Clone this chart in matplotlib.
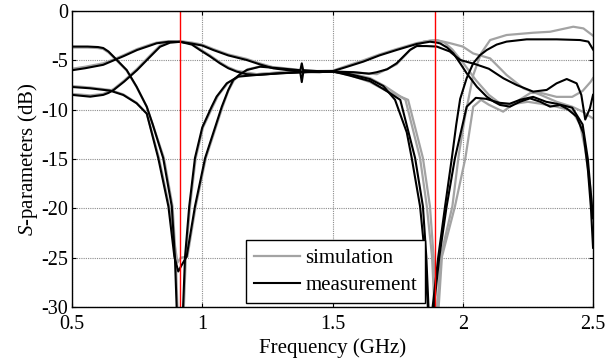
import numpy as np
import matplotlib
matplotlib.use('Agg')
import matplotlib.pyplot as plt

plt.rcParams['font.family'] = 'Liberation Serif'
plt.rcParams['mathtext.fontset'] = 'custom'
plt.rcParams['mathtext.rm'] = 'Liberation Serif'
plt.rcParams['mathtext.it'] = 'Liberation Serif:italic'
plt.rcParams['axes.unicode_minus'] = False

# centre frequencies of the two bands (GHz)
f_bands = [0.915, 1.895]

# measured curves (GHz, dB)
f_t1_meas = [0.5, 0.55, 0.62, 0.66, 0.7, 0.75, 0.8, 0.825, 0.87, 0.915, 0.96, 1.0, 1.042, 1.1, 1.17, 1.22, 1.273, 1.33,
             1.375, 1.45, 1.5, 1.55, 1.618, 1.68, 1.746, 1.823, 1.874, 1.9, 1.913, 1.94, 1.964, 1.99, 2.015, 2.054, 2.092,
             2.12, 2.143, 2.181, 2.22, 2.258, 2.297, 2.335, 2.373, 2.4, 2.437, 2.463, 2.48, 2.492, 2.5]
s_t1_meas = [-6.0, -5.8, -5.45, -5.0, -4.55, -3.95, -3.5, -3.27, -3.12, -3.12, -3.3, -3.5, -3.95, -4.5, -4.96, -5.4, -5.81, -6.0,
             -6.14, -6.2, -6.1, -5.7, -5.13, -4.5, -3.95, -3.34, -3.11, -3.2, -3.28, -3.7, -4.29, -5.3, -6.31, -7.67, -8.68,
             -9.2, -9.52, -9.69, -9.19, -8.85, -9.19, -9.69, -9.52, -9.9, -10.7, -12.4, -16.0, -20.0, -24.0]

f_t2_meas = [0.5, 0.57, 0.62, 0.64, 0.66, 0.7, 0.75, 0.8, 0.838, 0.876, 0.915, 0.96, 0.991, 1.03, 1.068, 1.1, 1.132, 1.17,
             1.209, 1.298, 1.4, 1.5, 1.58, 1.64, 1.67, 1.71, 1.746, 1.797, 1.823, 1.86, 1.9, 1.95, 1.99, 2.05, 2.1, 2.156,
             2.207, 2.27, 2.322, 2.36, 2.399, 2.437, 2.455, 2.47, 2.488, 2.5]
s_t2_meas = [-8.5, -8.68, -8.5, -8.3, -8.0, -7.16, -5.98, -4.63, -3.62, -3.21, -3.12, -3.4, -3.95, -4.6, -5.3, -5.8, -6.14, -6.4,
             -6.48, -6.31, -6.2, -6.15, -6.2, -6.35, -6.2, -5.9, -5.3, -3.95, -3.55, -3.55, -3.6, -4.1, -4.96, -5.4, -5.85,
             -6.82, -7.5, -8.17, -8.0, -7.33, -6.89, -7.33, -8.5, -11.0, -9.86, -8.5]

f_r1_meas = [0.5, 0.56, 0.6, 0.62, 0.64, 0.66, 0.71, 0.748, 0.787, 0.81, 0.85, 0.883, 0.895, 0.903, 0.925, 0.934, 0.95, 0.972,
             1.0, 1.036, 1.055, 1.094, 1.138, 1.209, 1.298, 1.375, 1.382, 1.389, 1.45, 1.5, 1.567, 1.644, 1.695, 1.74,
             1.785, 1.804, 1.836, 1.855, 1.868, 1.88, 1.906, 1.932, 1.958, 1.975, 1.99, 2.015, 2.04, 2.065, 2.092, 2.13,
             2.168, 2.245, 2.36, 2.45, 2.482, 2.5]
s_r1_meas = [-3.6, -3.6, -3.65, -3.75, -4.1, -4.63, -5.98, -7.67, -9.7, -11.5, -14.9, -19.8, -24.9, -31.0, -31.0, -24.9, -19.8,
             -14.9, -11.8, -9.7, -8.68, -7.33, -6.65, -6.48, -6.31, -6.2, -5.3, -6.2, -6.1, -6.15, -6.4, -6.9, -7.6, -9.0,
             -12.3, -14.9, -19.8, -24.9, -31.0, -31.0, -24.9, -19.8, -14.9, -11.5, -8.9, -6.8, -5.3, -4.5, -3.95, -3.4,
             -3.1, -2.87, -2.87, -2.94, -3.1, -3.9]

f_r2_meas = [0.5, 0.569, 0.646, 0.697, 0.748, 0.787, 0.831, 0.87, 0.893, 0.908, 0.92, 0.94, 0.972, 1.011, 1.075, 1.1, 1.119,
             1.145, 1.171, 1.222, 1.298, 1.375, 1.382, 1.389, 1.45, 1.5, 1.567, 1.644, 1.695, 1.76, 1.817, 1.847, 1.86,
             1.87, 1.885, 1.91, 1.938, 1.97, 2.015, 2.05, 2.09, 2.14, 2.18, 2.22, 2.27, 2.32, 2.36, 2.42, 2.46, 2.48, 2.5]
s_r2_meas = [-7.7, -7.83, -8.07, -8.51, -9.35, -10.4, -14.9, -19.8, -24.9, -26.4, -25.8, -24.9, -19.8, -14.9, -9.7, -8.0, -6.99,
             -6.4, -5.98, -5.64, -5.81, -6.0, -7.2, -6.0, -6.1, -6.1, -6.55, -7.1, -7.9, -9.0, -14.9, -19.8, -24.9, -31.0,
             -31.0, -24.9, -19.8, -14.9, -9.7, -8.8, -8.9, -9.3, -9.4, -9.0, -8.7, -9.2, -9.4, -9.8, -11.5, -15.0, -21.0]

# simulated curves (GHz, dB)
f_t1_sim = [0.5, 0.55, 0.62, 0.66, 0.7, 0.75, 0.8, 0.825, 0.87, 0.915, 0.96, 1.0, 1.042, 1.1, 1.17, 1.22, 1.273, 1.33,
            1.4, 1.5, 1.55, 1.618, 1.68, 1.746, 1.823, 1.874, 1.9, 1.93, 1.96, 2.0, 2.05, 2.1, 2.15, 2.2, 2.25, 2.3,
            2.36, 2.42, 2.45, 2.47, 2.49, 2.5]
s_t1_sim = [-5.85, -5.65, -5.3, -4.9, -4.45, -3.85, -3.4, -3.2, -3.05, -3.05, -3.2, -3.4, -3.85, -4.4, -4.85, -5.3, -5.7, -5.95,
            -6.1, -6.05, -5.6, -5.0, -4.4, -3.85, -3.25, -3.0, -2.95, -3.2, -3.9, -5.2, -7.0, -8.5, -9.5, -9.4, -9.2, -9.4,
            -9.7, -10.1, -11.5, -14.0, -18.0, -21.0]

f_t2_sim = [0.5, 0.57, 0.62, 0.66, 0.7, 0.75, 0.8, 0.838, 0.876, 0.915, 0.96, 0.991, 1.03, 1.068, 1.1, 1.132, 1.209, 1.298,
            1.4, 1.5, 1.58, 1.67, 1.746, 1.8, 1.85, 1.9, 1.95, 2.0, 2.04, 2.105, 2.168, 2.233, 2.3, 2.36, 2.42, 2.46, 2.5]
s_t2_sim = [-8.4, -8.55, -8.4, -7.9, -7.05, -5.85, -4.5, -3.5, -3.12, -3.05, -3.3, -3.85, -4.5, -5.2, -5.7, -6.05, -6.4, -6.25,
            -6.15, -6.1, -6.2, -6.4, -5.4, -3.9, -3.1, -2.95, -3.25, -3.6, -4.3, -4.8, -6.48, -7.84, -8.51, -9.2, -9.7,
            -10.2, -10.9]

f_r1_sim = [0.5, 0.56, 0.6, 0.62, 0.64, 0.66, 0.71, 0.748, 0.787, 0.81, 0.853, 0.886, 0.898, 0.906, 0.928, 0.937, 0.953,
            0.975, 1.003, 1.04, 1.06, 1.1, 1.14, 1.21, 1.3, 1.4, 1.5, 1.567, 1.644, 1.7, 1.78, 1.836, 1.862, 1.882,
            1.893, 1.9, 1.915, 1.96, 1.985, 2.01, 2.04, 2.07, 2.105, 2.168, 2.27, 2.335, 2.424, 2.463, 2.5]
s_r1_sim = [-3.7, -3.7, -3.75, -3.85, -4.2, -4.7, -6.05, -7.7, -9.7, -11.5, -14.9, -19.8, -24.9, -31.0, -31.0, -24.9, -19.8,
            -14.9, -11.8, -9.7, -8.6, -7.25, -6.6, -6.4, -6.2, -6.1, -6.1, -6.3, -6.8, -7.6, -9.0, -14.9, -19.8, -24.9,
            -31.0, -31.0, -24.9, -19.8, -14.5, -10.5, -6.5, -4.3, -2.94, -2.43, -2.2, -2.1, -1.59, -1.76, -2.5]

f_r2_sim = [0.5, 0.569, 0.646, 0.697, 0.748, 0.787, 0.834, 0.873, 0.893, 0.905, 0.918, 0.943, 0.975, 1.014, 1.078, 1.1,
            1.122, 1.174, 1.225, 1.3, 1.4, 1.5, 1.567, 1.644, 1.7, 1.79, 1.847, 1.874, 1.888, 1.897, 1.905, 1.92,
            1.97, 2.01, 2.04, 2.07, 2.1, 2.155, 2.2, 2.26, 2.3, 2.36, 2.42, 2.46, 2.49, 2.5]
s_r2_sim = [-7.6, -7.75, -8.0, -8.45, -9.3, -10.4, -14.9, -19.8, -23.5, -25.5, -25.0, -24.9, -19.8, -14.9, -9.7, -8.1,
            -7.0, -5.9, -5.6, -5.75, -6.05, -6.15, -6.5, -7.2, -8.0, -9.0, -14.9, -19.8, -24.9, -31.0, -31.0, -24.9,
            -19.8, -14.9, -9.7, -9.0, -9.5, -10.2, -9.3, -8.3, -8.3, -8.7, -8.7, -8.1, -7.2, -6.8]

sim_color = '#a3a3a3'
meas_color = 'black'

fig = plt.figure(figsize=(6.08, 3.62), dpi=100)
ax = fig.add_axes([0.1184, 0.152, 0.857, 0.8175])

sim = [(f_t1_sim, s_t1_sim), (f_t2_sim, s_t2_sim), (f_r1_sim, s_r1_sim), (f_r2_sim, s_r2_sim)]
meas = [(f_t1_meas, s_t1_meas), (f_t2_meas, s_t2_meas), (f_r1_meas, s_r1_meas), (f_r2_meas, s_r2_meas)]

for i, (f, s) in enumerate(sim):
    ax.plot(f, s, color=sim_color, lw=1.6, label='simulation' if i == 0 else None)
for i, (f, s) in enumerate(meas):
    ax.plot(f, s, color=meas_color, lw=1.5, label='measurement' if i == 0 else None)

for fb in f_bands:
    ax.axvline(fb, color='red', lw=1.0)

ax.set_xlim(0.5, 2.5)
ax.set_ylim(-30, 0)
ax.set_xticks([0.5, 1, 1.5, 2, 2.5])
ax.set_xticklabels(['0.5', '1', '1.5', '2', '2.5'])
ax.set_yticks([-30, -25, -20, -15, -10, -5, 0])
ax.grid(True, color='0.55', linestyle=(0, (1, 1)), lw=0.8)
ax.tick_params(direction='in', top=True, right=True, labelsize=14.5, length=3)
ax.tick_params(axis='x', pad=6)
ax.tick_params(axis='y', pad=3)
for sp in ax.spines.values():
    sp.set_linewidth(1.0)

ax.set_xlabel('Frequency (GHz)', fontsize=15, labelpad=3)
ax.set_ylabel('$S$-parameters (dB)', fontsize=15, labelpad=1)

leg = ax.legend(loc='lower left', bbox_to_anchor=(0.334, 0.012), fontsize=15, fancybox=False,
                edgecolor='black', framealpha=1, handlelength=2.2, handletextpad=0.25, borderpad=0.4,
                labelspacing=0.35, borderaxespad=0)
leg.get_frame().set_linewidth(1.0)

fig.savefig('out.png', dpi=100)
